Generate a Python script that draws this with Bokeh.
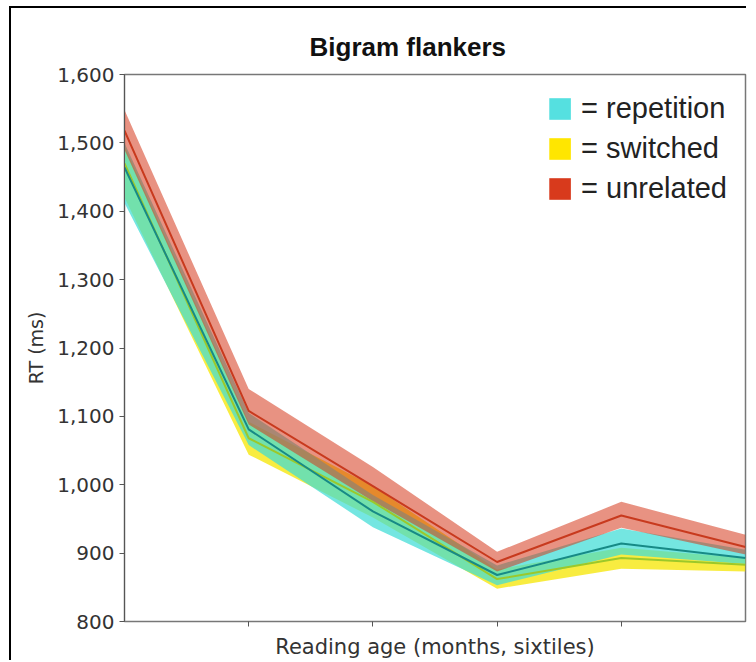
from bokeh.plotting import figure
from bokeh.models import FixedTicker, NumeralTickFormatter, Range1d, Legend, LegendItem
from bokeh.embed import file_html
from bokeh.resources import INLINE

# ---- data ----
sextile = [1, 2, 3, 4, 5, 6]
y_ticks = [800, 900, 1000, 1100, 1200, 1300, 1400, 1500, 1600]
x_ticks = [2, 3, 4, 5]

repetition_mean = [1464, 1081, 961, 868, 914, 893]
repetition_lo = [1412, 1058, 938, 853, 898, 884]
repetition_hi = [1500, 1105, 985, 882, 936, 905]

switched_mean = [1470, 1068, 975, 862, 893, 883]
switched_lo = [1420, 1044, 952, 848, 877, 873]
switched_hi = [1495, 1092, 998, 876, 908, 893]

unrelated_mean = [1518, 1108, 998, 887, 955, 909]
unrelated_lo = [1490, 1088, 976, 873, 937, 898]
unrelated_hi = [1548, 1140, 1026, 902, 975, 927]

legend_labels = ["= repetition", "= switched", "= unrelated"]
legend_colors = ["#55e0e0", "#ffe600", "#d83a1c"]

p = figure(width=737, height=654, output_backend="svg", toolbar_location=None,
           x_range=Range1d(1, 6), y_range=Range1d(800, 1600),
           min_border_left=113, min_border_right=3, min_border_top=66, min_border_bottom=41,
           title="Bigram flankers")
p.styles = {"margin-left": "11px", "margin-top": "8px", "box-shadow": "-2px -2px 0 0 #000000"}
p.grid.visible = False
p.background_fill_color = "white"
p.border_fill_color = "white"
p.outline_line_color = "#777777"
p.outline_line_width = 1.5

# bands
p.varea(x=sextile, y1=switched_lo, y2=switched_hi, fill_color="#f5e500", fill_alpha=0.75)
p.varea(x=sextile, y1=repetition_lo, y2=repetition_hi, fill_color="#3fdcd6", fill_alpha=0.72)
p.varea(x=sextile, y1=unrelated_lo, y2=unrelated_hi, fill_color="#d5391c", fill_alpha=0.55)

# mean lines
p.line(x=sextile, y=switched_mean, line_color="#9cc82a", line_width=2)
p.line(x=sextile, y=repetition_mean, line_color="#178a86", line_width=2)
p.line(x=sextile, y=unrelated_mean, line_color="#c83a1e", line_width=2)

# legend swatches: single-x areas draw nothing on the plot, only the legend glyph
means = [repetition_mean, switched_mean, unrelated_mean]
items = []
for lab, col, m in zip(legend_labels, legend_colors, means):
    r = p.varea(x=sextile[:1], y1=m[:1], y2=m[:1], fill_color=col, fill_alpha=1.0)
    items.append(LegendItem(label=lab, renderers=[r]))
legend = Legend(items=items, location="top_right")
legend.border_line_color = None
legend.background_fill_alpha = 0
legend.label_text_font = "Liberation Sans"
legend.label_text_font_size = "29px"
legend.label_text_color = "#222222"
legend.glyph_width = 27
legend.glyph_height = 27
legend.label_standoff = 8
legend.spacing = 7
legend.padding = 8
legend.margin = 18
p.add_layout(legend)

# title
p.title.text_font = "Liberation Sans"
p.title.text_font_size = "26px"
p.title.text_font_style = "bold"
p.title.text_color = "#111111"
p.title.align = "left"
p.title.offset = 185
p.title.standoff = 25

# y axis
p.yaxis.ticker = FixedTicker(ticks=y_ticks)
p.yaxis.formatter = NumeralTickFormatter(format="0,0")
p.yaxis.major_label_text_font = "DejaVu Sans"
p.yaxis.major_label_text_font_size = "20px"
p.yaxis.major_label_text_color = "#333333"
p.yaxis.major_tick_out = 5
p.yaxis.major_tick_in = 0
p.yaxis.minor_tick_line_color = None
p.yaxis.axis_line_color = "#555555"
p.yaxis.major_tick_line_color = "#555555"
p.yaxis.axis_label = "RT (ms)"
p.yaxis.axis_label_text_font = "DejaVu Sans"
p.yaxis.axis_label_text_font_size = "19px"
p.yaxis.axis_label_text_font_style = "normal"
p.yaxis.axis_label_text_color = "#333333"
p.yaxis.axis_label_standoff = 7

# x axis
p.xaxis.ticker = FixedTicker(ticks=x_ticks)
p.xaxis.major_label_overrides = {t: "" for t in x_ticks}
p.xaxis.major_label_text_font_size = "1px"
p.xaxis.major_label_standoff = 0
p.xaxis.major_tick_out = 5
p.xaxis.major_tick_in = 0
p.xaxis.minor_tick_line_color = None
p.xaxis.axis_line_color = "#777777"
p.xaxis.major_tick_line_color = "#555555"
p.xaxis.axis_label = "Reading age (months, sixtiles)"
p.xaxis.axis_label_text_font = "DejaVu Sans"
p.xaxis.axis_label_text_font_size = "21px"
p.xaxis.axis_label_text_font_style = "normal"
p.xaxis.axis_label_text_color = "#333333"
p.xaxis.axis_label_standoff = 8

open("out.html", "w").write(file_html(p, INLINE))
